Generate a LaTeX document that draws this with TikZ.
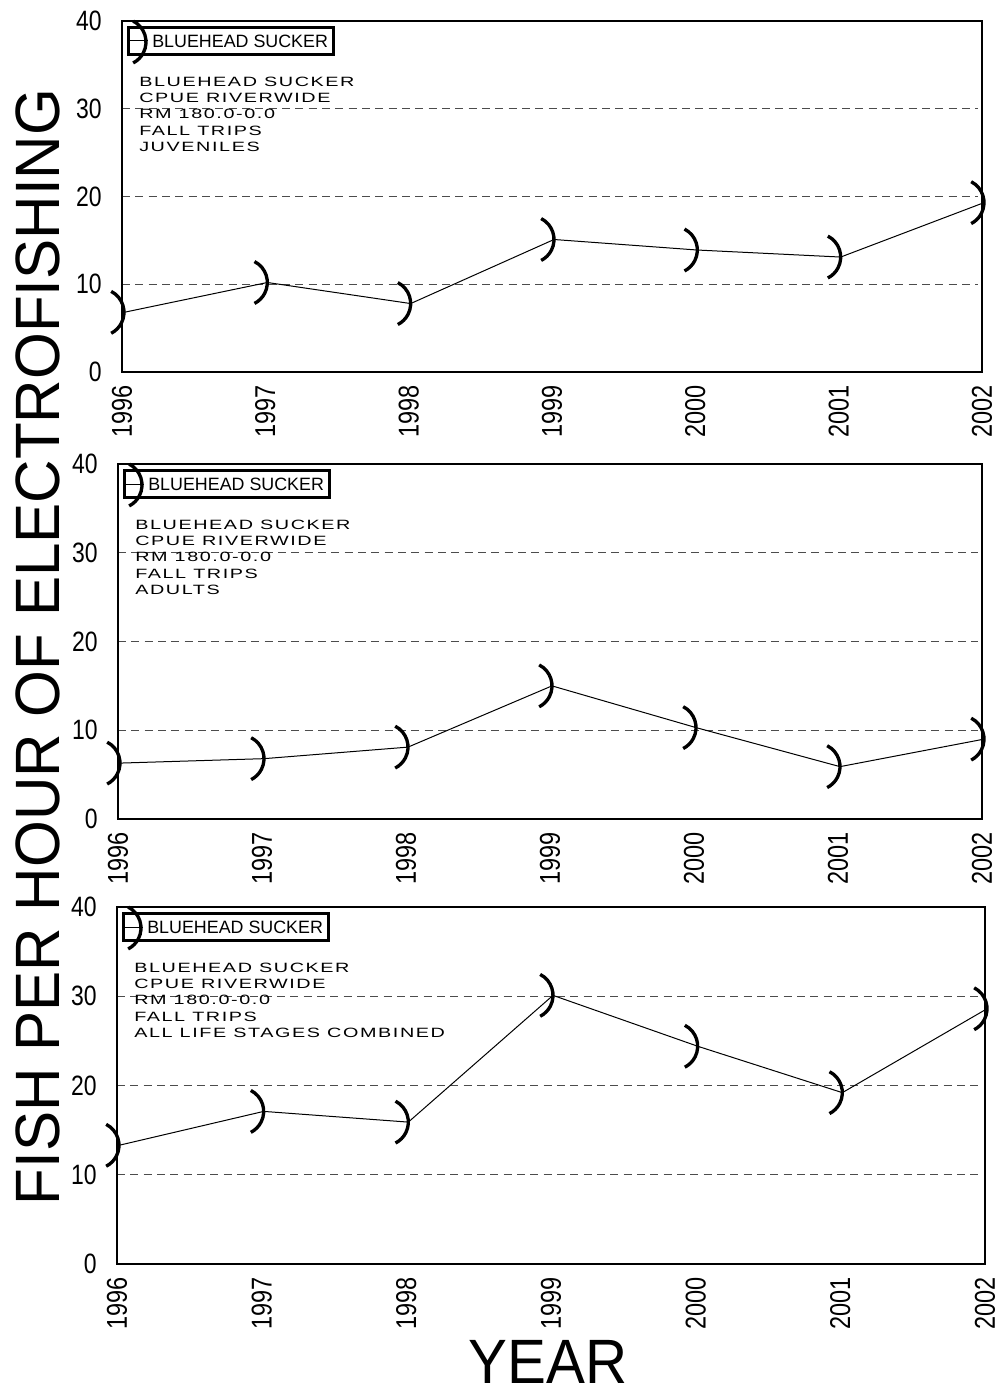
\documentclass[tikz,border=0pt]{standalone}
\usepackage{fontspec}
\setmainfont{Liberation Sans}
\newfontfamily\annfont[LetterSpace=8]{Liberation Sans}
\usepackage{graphicx}
\tikzset{
  frame/.style={draw=black,line width=2pt},
  gridline/.style={draw=black!70,line width=0.7pt,dash pattern=on 6pt off 4pt},
  dataline/.style={draw=black,line width=0.75pt},
  markarc/.style={draw=black,line width=2.5pt},
  legbox/.style={draw=black,line width=1.9pt},
  ticklab/.style={font=\fontsize{21}{24}\selectfont,inner sep=0pt},
  yearlab/.style={font=\fontsize{21.5}{24}\selectfont,inner sep=0pt,rotate=90,anchor=east},
  legtext/.style={font=\fontsize{13.4}{15}\selectfont,inner sep=0pt,anchor=west},
  anntext/.style={font=\annfont\fontsize{10.1}{12}\selectfont,inner sep=0pt,anchor=base west},
  biglab/.style={font=\fontsize{47}{54}\selectfont,inner sep=0pt}
}
\newcommand\cond[1]{\scalebox{0.82}[1]{#1}}
\newcommand\wide[1]{\scalebox{1.47}[1]{#1}}
\newcommand\parenmark[2]{%
  \draw[markarc] ({#1-23.5},{#2}) ++(-63:23.5) arc[start angle=-63,end angle=63,radius=23.5];}
% #1 x0, #2 x1, #3 ytop, #4 ybot, #5 data, #6 stage text, #7 name
\newcommand\drawpanel[7]{%
  \foreach \g in {10,20,30}
    \draw[gridline] ({#1},{#4-\g*(#4-#3)/40}) -- ({#2-4},{#4-\g*(#4-#3)/40});
  \draw[frame] (#1,#3) rectangle (#2,#4);
  \foreach \t in {0,10,20,30,40}
    \node[ticklab,anchor=east] (#7t\t) at ({#1-20},{#4-\t*(#4-#3)/40}) {\cond{\t}};
  \foreach \yr [count=\i from 0] in {1996,1997,1998,1999,2000,2001,2002}
    \node[yearlab] (#7yr\i) at ({#1+\i*(#2-#1)/6},{#4+13}) {\cond{\yr}};
  \foreach \v [count=\i from 0] in {#5}
    \coordinate (#7p\i) at ({#1+\i*(#2-#1)/6+2},{#4-\v*(#4-#3)/40});
  \draw[dataline] (#7p0) \foreach \i in {1,...,6}{ -- (#7p\i)};
  \foreach \v [count=\i from 0] in {#5}
    \parenmark{#1+\i*(#2-#1)/6+2}{#4-\v*(#4-#3)/40};
  % legend
  \draw[legbox,fill=white] ({#1+6.5},{#3+6.5}) rectangle ++(205,27);
  \coordinate (#7la) at ({#1+8},{#3+20});
  \coordinate (#7lb) at ({#1+26},{#3+20});
  \draw[dataline] (#7la) -- (#7lb);
  \parenmark{#1+24}{#3+21}
  \node[legtext] (#7leg) at ({#1+30},{#3+20}) {BLUEHEAD SUCKER};
  % annotation
  \node[anntext] (#7a1) at ({#1+17},{#3+65.5}) {\wide{BLUEHEAD SUCKER}};
  \node[anntext] (#7a2) at ({#1+17},{#3+65.5+16.2}) {\wide{CPUE RIVERWIDE}};
  \node[anntext] (#7a3) at ({#1+17},{#3+65.5+32.4}) {\wide{RM 180.0-0.0}};
  \node[anntext] (#7a4) at ({#1+17},{#3+65.5+48.6}) {\wide{FALL TRIPS}};
  \node[anntext] (#7a5) at ({#1+17},{#3+65.5+64.8}) {\wide{#6}};
}
\begin{document}
\begin{tikzpicture}[x=0.75pt,y=-0.75pt]
  \useasboundingbox[fill=white] (0,0) rectangle (1000,1395);
  \drawpanel{122}{982}{21}{372}{6.8,10.2,7.8,15.1,13.9,13.1,19.3}{JUVENILES}{A}
  \drawpanel{118}{982}{464}{819}{6.3,6.8,8.1,15.0,10.3,5.9,9.0}{ADULTS}{B}
  \drawpanel{117}{985}{907}{1264}{13.3,17.1,15.9,30.1,24.4,19.2,28.6}{ALL LIFE STAGES COMBINED}{C}
  \node[biglab,rotate=90] (ylab) at (38,647) {\scalebox{0.96}[1]{FISH PER HOUR OF ELECTROFISHING}};
  \node[biglab] (xlab) at (548,1362) {\scalebox{0.93}[1]{YEAR}};
\end{tikzpicture}
\end{document}
